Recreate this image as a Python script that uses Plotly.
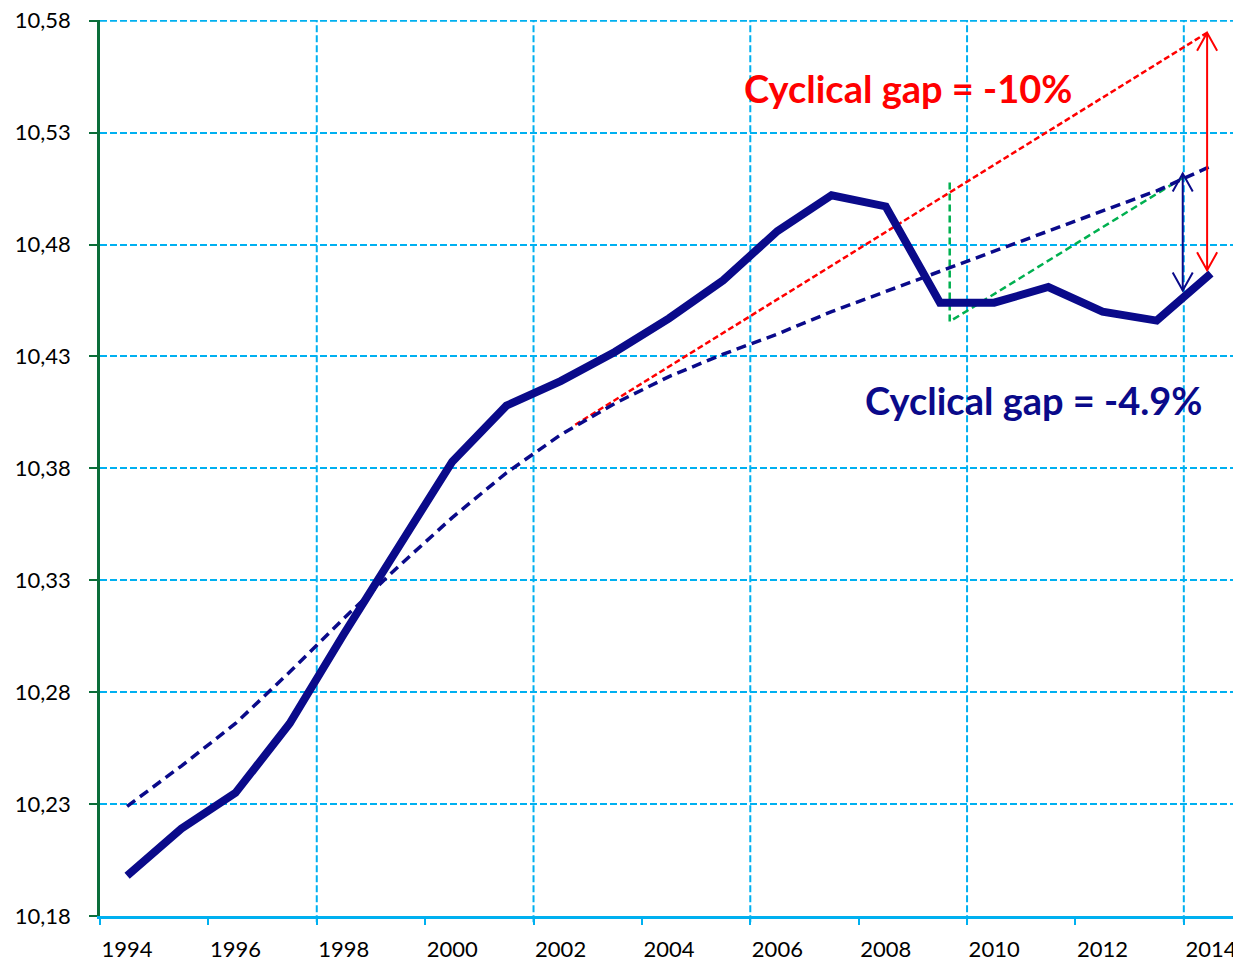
import plotly.graph_objects as go

# ---- data ----
years = list(range(1994, 2015))
gdp_log = [10.198, 10.219, 10.235, 10.266, 10.306, 10.345, 10.383, 10.408, 10.419, 10.432,
           10.447, 10.464, 10.486, 10.502, 10.497, 10.454, 10.454, 10.461, 10.450, 10.446, 10.467]
trend = [10.229, 10.247, 10.266, 10.289, 10.313, 10.336, 10.358, 10.378, 10.395, 10.409,
         10.421, 10.431, 10.440, 10.450, 10.459, 10.468, 10.477, 10.486, 10.495, 10.504, 10.515]

# pre-crisis trend extrapolation (red) and its gap arrow
red_x = [2002.27, 2013.93]
red_y = [10.3995, 10.5746]
red_arrow_x = 2013.93
red_arrow_y = [10.5746, 10.4685]

# current trend gap arrow (blue)
blue_arrow_x = 2013.48
blue_arrow_y = [10.5117, 10.4595]

# green dashed construction
green_x = [2009.18, 2009.18, 2013.52]
green_y = [10.5077, 10.4456, 10.5104]

y_ticks = [10.18, 10.23, 10.28, 10.33, 10.38, 10.43, 10.48, 10.53, 10.58]
x_label_years = list(range(1994, 2015, 2))
vgrid_x = [1997.5, 2001.5, 2005.5, 2009.5, 2013.5]
minor_tick_x = [1993.5 + 2 * i for i in range(11)]

NAVY = "#0a0a8a"
GRID = "#00b0f0"
FONT = "Lato, 'Open Sans', sans-serif"

fig = go.Figure()

fig.add_trace(go.Scatter(x=red_x, y=red_y, mode="lines",
                         line=dict(color="#ff0000", width=2.5, dash="6px,3px"),
                         hoverinfo="skip", showlegend=False))
fig.add_trace(go.Scatter(x=green_x, y=green_y, mode="lines",
                         line=dict(color="#00b050", width=2.5, dash="7px,4px"),
                         hoverinfo="skip", showlegend=False))
fig.add_trace(go.Scatter(x=years, y=trend, mode="lines",
                         line=dict(color=NAVY, width=3.5, dash="10px,6px"),
                         showlegend=False))
fig.add_trace(go.Scatter(x=years, y=gdp_log, mode="lines",
                         line=dict(color=NAVY, width=8),
                         showlegend=False))
# arrow shafts
fig.add_trace(go.Scatter(x=[red_arrow_x, red_arrow_x], y=red_arrow_y, mode="lines",
                         line=dict(color="#ff0000", width=2), hoverinfo="skip", showlegend=False))
fig.add_trace(go.Scatter(x=[blue_arrow_x, blue_arrow_x], y=blue_arrow_y, mode="lines",
                         line=dict(color=NAVY, width=2), hoverinfo="skip", showlegend=False))

shapes = []
# vertical gridlines
for gx in vgrid_x:
    shapes.append(dict(type="line", xref="x", yref="paper", x0=gx, x1=gx, y0=-0.007, y1=1,
                       line=dict(color=GRID, width=2, dash="7px,3px"), layer="below"))
# top horizontal gridline (at the range edge)
shapes.append(dict(type="line", xref="paper", yref="y", x0=0, x1=1, y0=y_ticks[-1], y1=y_ticks[-1],
                   line=dict(color=GRID, width=2, dash="7px,3px"), layer="below"))

# open arrowheads
hdx, hdy = 0.185, 0.008


def vhead(x, ytip, direction, color):
    yb = ytip - direction * hdy
    return dict(type="path", xref="x", yref="y",
                path=f"M {x - hdx},{yb} L {x},{ytip} L {x + hdx},{yb}",
                line=dict(color=color, width=2))


shapes.append(vhead(red_arrow_x, red_arrow_y[0], 1, "#ff0000"))
shapes.append(vhead(red_arrow_x, red_arrow_y[1], -1, "#ff0000"))
shapes.append(vhead(blue_arrow_x, blue_arrow_y[0], 1, NAVY))
shapes.append(vhead(blue_arrow_x, blue_arrow_y[1], -1, NAVY))

annotations = [
    dict(x=2008.41, y=10.5501, xref="x", yref="y", text="<b>Cyclical gap = -10%</b>",
         showarrow=False, font=dict(family=FONT, size=38, color="#ff0000")),
    dict(x=2010.73, y=10.4104, xref="x", yref="y", text="<b>Cyclical gap = -4.9%</b>",
         showarrow=False, font=dict(family=FONT, size=38, color=NAVY)),
]

fig.update_layout(
    width=1233, height=955,
    margin=dict(l=92, r=3, t=12, b=47),
    paper_bgcolor="white", plot_bgcolor="white",
    separators=",.",
    shapes=shapes, annotations=annotations,
    font=dict(family=FONT, size=22, color="black"),
    xaxis=dict(range=[1993.5, 2014.5], tickvals=x_label_years, ticktext=[str(y) for y in x_label_years],
               ticks="", showgrid=False, zeroline=False, automargin=False,
               showline=True, linecolor=GRID, linewidth=2.5,
               ticklabelstandoff=12,
               tickfont=dict(family=FONT, size=22, color="black"),
               minor=dict(tickvals=minor_tick_x, ticks="outside", ticklen=6, tickcolor=GRID,
                          tickwidth=2, showgrid=False)),
    yaxis=dict(range=[10.18, 10.5803], tickvals=y_ticks, tickformat=".2f",
               ticks="outside", ticklen=8, tickcolor="#0b6e3a", tickwidth=2,
               showline=True, linecolor="#0b6e3a", linewidth=2.5, automargin=False,
               showgrid=True, gridcolor=GRID, gridwidth=2, griddash="7px,3px",
               zeroline=False, ticklabelstandoff=14, ticklabeloverflow="allow",
               tickfont=dict(family=FONT, size=22, color="black")),
)

fig.write_html("out.html")
